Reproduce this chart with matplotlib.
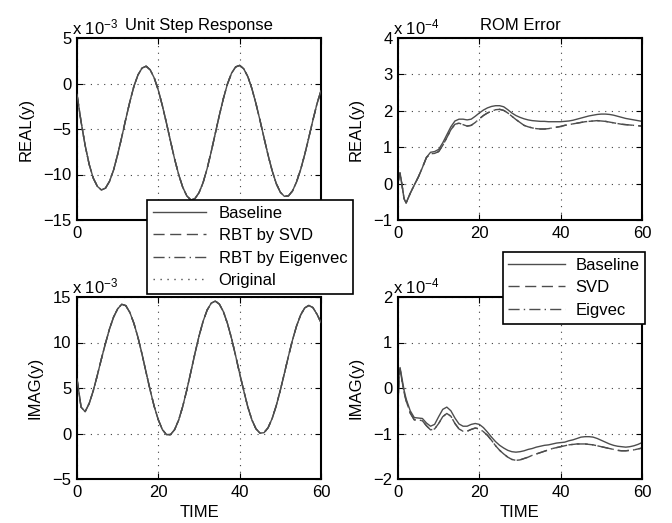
import matplotlib
matplotlib.use('Agg')
import matplotlib.pyplot as plt
import numpy as np

plt.rcParams['font.family'] = ['Liberation Sans', 'DejaVu Sans']
plt.rcParams['font.size'] = 12
plt.rcParams['mathtext.fontset'] = 'custom'
plt.rcParams['mathtext.rm'] = 'Liberation Sans'
plt.rcParams['mathtext.it'] = 'Liberation Sans:italic'

# unit step response, values in units of 1e-3, read at t = 0,1,...,60
t_step = np.arange(0, 61)
real_step = [-1.2, -4.2, -6.8, -8.9, -10.4, -11.3, -11.7, -11.5, -10.75, -9.5,
             -7.8, -5.9, -3.9, -2.0, -0.3, 0.95, 1.7, 1.9, 1.5, 0.6,
             -0.75, -2.45, -4.35, -6.35, -8.3, -10.0, -11.4, -12.35, -12.8, -12.65,
             -12.0, -10.9, -9.35, -7.5, -5.5, -3.5, -1.65, -0.05, 1.13, 1.82,
             1.99, 1.62, 0.76, -0.55, -2.2, -4.05, -6.0, -7.9, -9.6, -11.0,
             -11.95, -12.4, -12.35, -11.8, -10.8, -9.45, -7.8, -5.95, -4.05, -2.25,
             -0.8]
imag_step = [6.0, 2.9, 2.4, 3.3, 4.7, 6.4, 8.2, 9.9, 11.5, 12.8,
             13.7, 14.2, 14.05, 13.3, 12.1, 10.55, 8.7, 6.7, 4.75, 2.95,
             1.5, 0.42, -0.12, -0.12, 0.42, 1.48, 2.97, 4.78, 6.77, 8.79,
             10.69, 12.32, 13.56, 14.32, 14.55, 14.22, 13.39, 12.09, 10.45, 8.56,
             6.58, 4.71, 2.92, 1.51, 0.52, 0.04, 0.09, 0.64, 1.66, 3.06,
             4.76, 6.61, 8.5, 10.28, 11.83, 13.03, 13.8, 14.07, 13.84, 13.12,
             12.2]
# the reduced models sit on top of the baseline at this scale
real_svd = list(real_step)
real_eig = list(real_step)
real_orig = list(real_step)
imag_svd = list(imag_step)
imag_eig = list(imag_step)
imag_orig = list(imag_step)

# ROM error, values in units of 1e-4
t_rom = [0, 0.25, 0.5, 1, 1.5] + list(range(2, 61))
real_err_base = [0.0, 0.2, 0.3, -0.05, -0.42, -0.53, -0.27, -0.04, 0.18, 0.44,
                 0.72, 0.86, 0.88, 0.94, 1.12, 1.34, 1.56, 1.72, 1.77, 1.77,
                 1.75, 1.77, 1.85, 1.94, 2.02, 2.08, 2.12, 2.14, 2.14, 2.11,
                 2.03, 1.94, 1.87, 1.82, 1.78, 1.75, 1.73, 1.72, 1.71, 1.71,
                 1.7, 1.7, 1.7, 1.7, 1.71, 1.72, 1.74, 1.77, 1.8, 1.83,
                 1.86, 1.88, 1.9, 1.91, 1.91, 1.9, 1.88, 1.85, 1.82, 1.79,
                 1.77, 1.75, 1.73, 1.71]
real_err_svd = [0.0, 0.2, 0.3, -0.05, -0.42, -0.53, -0.27, -0.04, 0.18, 0.44,
                0.72, 0.82, 0.83, 0.88, 1.05, 1.26, 1.48, 1.63, 1.66, 1.62,
                1.58, 1.6, 1.68, 1.78, 1.87, 1.94, 1.99, 2.03, 2.04, 2.01,
                1.94, 1.85, 1.76, 1.68, 1.6, 1.56, 1.53, 1.51, 1.5, 1.5,
                1.51, 1.53, 1.55, 1.57, 1.6, 1.62, 1.64, 1.66, 1.68, 1.7,
                1.71, 1.72, 1.73, 1.72, 1.71, 1.69, 1.67, 1.65, 1.63, 1.62,
                1.61, 1.6, 1.59, 1.58]
real_err_eig = list(real_err_svd)
imag_err_base = [-0.45, 0.3, 0.45, 0.2, -0.05, -0.24, -0.5, -0.65, -0.66, -0.67,
                 -0.77, -0.84, -0.8, -0.63, -0.47, -0.42, -0.5, -0.66, -0.79, -0.84,
                 -0.84, -0.8, -0.78, -0.8, -0.87, -0.97, -1.08, -1.18, -1.26, -1.32,
                 -1.37, -1.4, -1.41, -1.4, -1.38, -1.35, -1.33, -1.3, -1.28, -1.26,
                 -1.25, -1.23, -1.21, -1.2, -1.19, -1.16, -1.14, -1.11, -1.08, -1.07,
                 -1.07, -1.08, -1.11, -1.15, -1.19, -1.23, -1.26, -1.28, -1.29, -1.3,
                 -1.29, -1.27, -1.24, -1.2]
imag_err_svd = [-0.45, 0.3, 0.42, 0.15, -0.1, -0.28, -0.55, -0.7, -0.7, -0.72,
                -0.83, -0.92, -0.9, -0.78, -0.63, -0.56, -0.62, -0.78, -0.9, -0.95,
                -0.95, -0.91, -0.88, -0.9, -0.96, -1.04, -1.15, -1.27, -1.37, -1.45,
                -1.52, -1.57, -1.59, -1.58, -1.55, -1.52, -1.48, -1.45, -1.42, -1.39,
                -1.36, -1.33, -1.31, -1.29, -1.27, -1.25, -1.24, -1.23, -1.23, -1.23,
                -1.24, -1.25, -1.27, -1.29, -1.31, -1.33, -1.35, -1.37, -1.38, -1.38,
                -1.37, -1.36, -1.34, -1.32]
imag_err_eig = list(imag_err_svd)

W, H = 672, 523
fig = plt.figure(figsize=(W / 100, H / 100), dpi=100)

def box(x0, y0, x1, y1):
    # pixel box (top-left origin) -> figure fraction
    return [x0 / W, 1 - y1 / H, (x1 - x0) / W, (y1 - y0) / H]

ax_rs = fig.add_axes(box(77, 38, 321, 220))
ax_is = fig.add_axes(box(77, 297, 321, 479))
ax_re = fig.add_axes(box(398, 38, 642, 220))
ax_ie = fig.add_axes(box(398, 297, 642, 479))

lc = '0.3'
lw = 1.0
sty_dash = (0, (8, 4))
sty_dashdot = (0, (8, 3, 1, 3))
sty_dot = (0, (1, 4))

# left column
h1, = ax_rs.plot(t_step, real_step, color=lc, lw=lw, ls='-', zorder=4)
h2, = ax_rs.plot(t_step, real_svd, color=lc, lw=lw, ls=sty_dash)
h3, = ax_rs.plot(t_step, real_eig, color=lc, lw=lw, ls=sty_dashdot)
h4, = ax_rs.plot(t_step, real_orig, color=lc, lw=lw, ls=sty_dot)
ax_is.plot(t_step, imag_step, color=lc, lw=lw, ls='-', zorder=4)
ax_is.plot(t_step, imag_svd, color=lc, lw=lw, ls=sty_dash)
ax_is.plot(t_step, imag_eig, color=lc, lw=lw, ls=sty_dashdot)
ax_is.plot(t_step, imag_orig, color=lc, lw=lw, ls=sty_dot)

# right column
g1, = ax_re.plot(t_rom, real_err_base, color=lc, lw=lw, ls='-')
g2, = ax_re.plot(t_rom, real_err_svd, color=lc, lw=lw, ls=sty_dash)
g3, = ax_re.plot(t_rom, real_err_eig, color=lc, lw=lw, ls=sty_dashdot)
ax_ie.plot(t_rom, imag_err_base, color=lc, lw=lw, ls='-')
ax_ie.plot(t_rom, imag_err_svd, color=lc, lw=lw, ls=sty_dash)
ax_ie.plot(t_rom, imag_err_eig, color=lc, lw=lw, ls=sty_dashdot)

ylims = {ax_rs: (-15, 5, 5), ax_is: (-5, 15, 5), ax_re: (-1, 4, 1), ax_ie: (-2, 2, 1)}
for ax, (lo, hi, st) in ylims.items():
    ax.set_xlim(0, 60)
    ax.set_ylim(lo, hi)
    ax.set_xticks([0, 20, 40, 60])
    ax.set_yticks(np.arange(lo, hi + st / 2, st))
    ax.grid(True, color='0.25', ls=(0, (1, 5)), lw=0.8)
    ax.tick_params(direction='in', length=4, width=0.8, top=True, right=True, pad=4,
                   labelsize=12)
    for sp in ax.spines.values():
        sp.set_linewidth(1.5)

# the legend hides these in the original
ax_rs.set_xticklabels(['0', '', '', ''])

ax_rs.set_ylabel('REAL(y)', labelpad=7)
ax_is.set_ylabel('IMAG(y)', labelpad=7)
ax_re.set_ylabel('REAL(y)', labelpad=7)
ax_ie.set_ylabel('IMAG(y)', labelpad=7)
ax_is.set_xlabel('TIME', labelpad=4)
ax_ie.set_xlabel('TIME', labelpad=4)
ax_rs.set_title('Unit Step Response', fontsize=12)
ax_re.set_title('ROM Error', fontsize=12)

ax_rs.text(-0.02, 1.02, r'x 10$^{-3}$', transform=ax_rs.transAxes, fontsize=12)
ax_is.text(-0.02, 1.02, r'x 10$^{-3}$', transform=ax_is.transAxes, fontsize=12)
ax_re.text(-0.02, 1.02, r'x 10$^{-4}$', transform=ax_re.transAxes, fontsize=12)
ax_ie.text(-0.02, 1.02, r'x 10$^{-4}$', transform=ax_ie.transAxes, fontsize=12)

leg1 = fig.legend([h1, h2, h3, h4],
                  ['Baseline', 'RBT by SVD', 'RBT by Eigenvec', 'Original'],
                  loc='upper left', bbox_to_anchor=(147 / W, 1 - 200 / H),
                  borderaxespad=0, fancybox=False, framealpha=1, edgecolor='k',
                  handlelength=3.2, handletextpad=0.75, labelspacing=0.45,
                  borderpad=0.35, fontsize=12)
leg1.get_frame().set_linewidth(1.2)
leg2 = fig.legend([g1, g2, g3], ['Baseline', 'SVD', 'Eigvec'],
                  loc='upper right', bbox_to_anchor=(645 / W, 1 - 252 / H),
                  borderaxespad=0, fancybox=False, framealpha=1, edgecolor='k',
                  handlelength=3.4, handletextpad=0.6, labelspacing=0.45,
                  borderpad=0.35, fontsize=12)
leg2.get_frame().set_linewidth(1.2)

plt.savefig('out.png', dpi=100)
